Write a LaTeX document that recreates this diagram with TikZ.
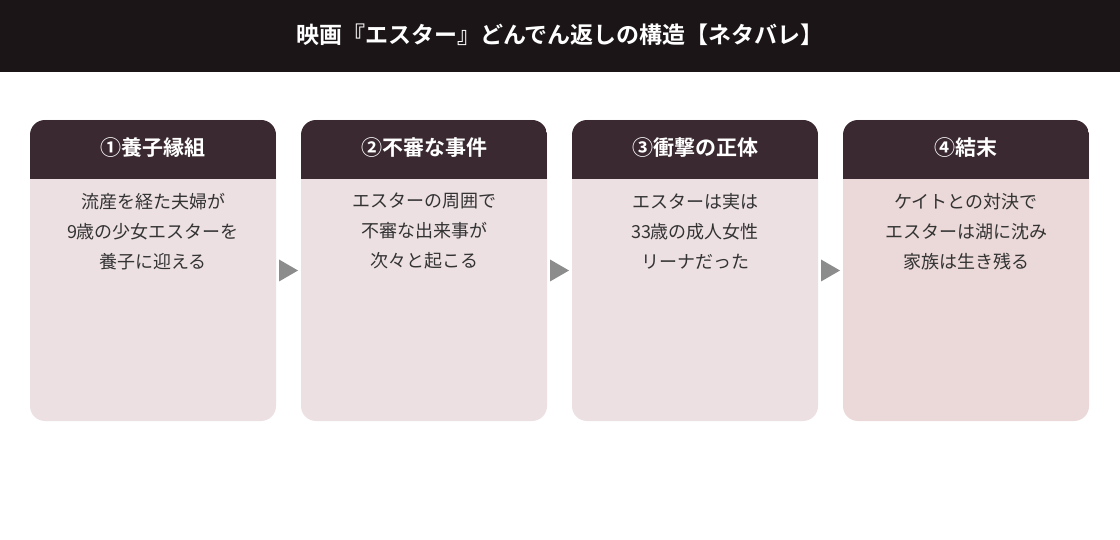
\documentclass[tikz,border=0pt]{standalone}
\usepackage{fontspec}
\setmainfont{Noto Sans CJK JP}
\newfontfamily\jpb{Noto Sans CJK JP Bold}
\definecolor{topbar}{HTML}{1B1517}
\definecolor{cardhead}{HTML}{3A2930}
\definecolor{cardbody}{HTML}{EDE0E3}
\definecolor{cardbodyb}{HTML}{EBD8D8}
\definecolor{bodytext}{HTML}{333333}
\definecolor{arrowgray}{HTML}{8C8C8C}
\tikzset{
  x=1pt, y=-1pt,
  titletext/.style={text=white, font=\jpb\fontsize{23}{27}\selectfont, anchor=center},
  headtext/.style={text=white, font=\jpb\fontsize{21}{25}\selectfont, anchor=center},
  bodytxt/.style={text=bodytext, font=\fontsize{18}{30}\selectfont, align=center, anchor=north},
  flowarrow/.style={fill=arrowgray, draw=none},
}
\begin{document}
\begin{tikzpicture}
\useasboundingbox (0,0) rectangle (1120,540);
\fill[white] (0,0) rectangle (1120,540);
\fill[topbar] (0,0) rectangle (1120,72);
\node[titletext] (title) at (560,35) {映画『エスター』どんでん返しの構造【ネタバレ】};
% cards
\foreach \i/\x/\bc in {1/30/cardbody,2/301/cardbody,3/572/cardbody,4/843/cardbodyb}{
  \fill[\bc, rounded corners=15pt] (\x,120) rectangle ++(246,301);
  \begin{scope}
    \clip[rounded corners=15pt] (\x,120) rectangle ++(246,301);
    \fill[cardhead] (\x,120) rectangle ++(246,59);
  \end{scope}
  \coordinate (c\i) at (\x+123,148);
  \coordinate (b\i) at (\x+123,189.5);
}
\node[headtext] (h1) at (c1) {①養子縁組};
\node[headtext] (h2) at (c2) {②不審な事件};
\node[headtext] (h3) at (c3) {③衝撃の正体};
\node[headtext] (h4) at (c4) {④結末};
\node[bodytxt] (t1) at (b1) {流産を経た夫婦が\\9歳の少女エスターを\\養子に迎える};
\node[bodytxt] (t2) at (b2) {エスターの周囲で\\不審な出来事が\\次々と起こる};
\node[bodytxt] (t3) at (b3) {エスターは実は\\33歳の成人女性\\リーナだった};
\node[bodytxt] (t4) at (b4) {ケイトとの対決で\\エスターは湖に沈み\\家族は生き残る};
% arrows
\foreach \x in {279,550,821}{
  \fill[flowarrow] (\x,259.5) -- (\x+19,270.5) -- (\x,281.5) -- cycle;
}
\end{tikzpicture}
\end{document}
